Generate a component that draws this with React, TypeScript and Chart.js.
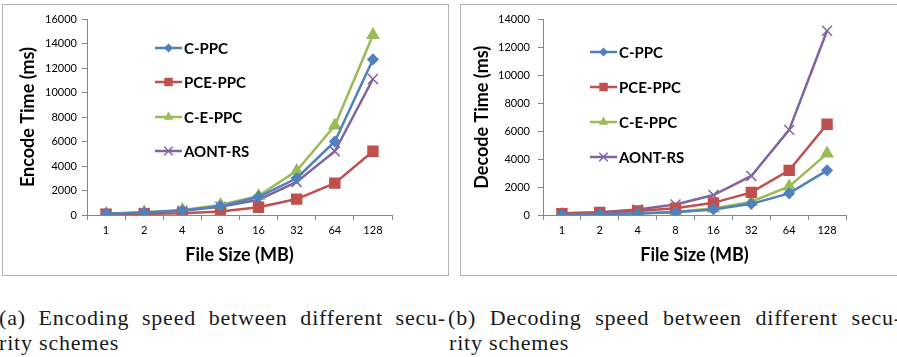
import React, { useEffect, useRef } from 'react';
import { Chart, registerables } from 'chart.js';

Chart.register(...registerables);

const categories = ['1', '2', '4', '8', '16', '32', '64', '128'];
const seriesNames = ['C-PPC', 'PCE-PPC', 'C-E-PPC', 'AONT-RS'];

const encodeCPPC = [100, 200, 370, 720, 1480, 3000, 6000, 12700];
const encodePCEPPC = [70, 90, 140, 280, 630, 1300, 2600, 5200];
const encodeCEPPC = [110, 220, 410, 820, 1560, 3600, 7300, 14700];
const encodeAONTRS = [100, 180, 340, 670, 1250, 2700, 5200, 11100];

const decodeCPPC = [40, 80, 110, 190, 400, 800, 1550, 3200];
const decodePCEPPC = [100, 180, 290, 480, 870, 1620, 3200, 6500];
const decodeCEPPC = [40, 80, 110, 240, 460, 950, 2050, 4400];
const decodeAONTRS = [120, 190, 400, 750, 1430, 2800, 6100, 13200];

const encodeMax = 16000;
const decodeMax = 14000;
const tickStep = 2000;

const COLORS = ['#4F81BD', '#C0504D', '#9BBB59', '#8064A2'];
const STYLES = ['rectRot', 'rect', 'triangle', 'crossRot'];
const RADII = [5, 7, 6.5, 7];
const LEGEND_RADII = [4.5, 6, 5.5, 6];

const FONT = 'Lato, "Open Sans", sans-serif';
const AXIS = '#868686';

function drawMarker(ctx: CanvasRenderingContext2D, style: string, x: number, y: number, r: number, color: string) {
  ctx.save();
  ctx.fillStyle = color;
  ctx.strokeStyle = color;
  ctx.lineWidth = 1.5;
  ctx.beginPath();
  if (style === 'rectRot') {
    ctx.moveTo(x, y - r);
    ctx.lineTo(x + r, y);
    ctx.lineTo(x, y + r);
    ctx.lineTo(x - r, y);
    ctx.closePath();
    ctx.fill();
  } else if (style === 'rect') {
    const s = Math.SQRT1_2 * r;
    ctx.rect(x - s, y - s, 2 * s, 2 * s);
    ctx.fill();
  } else if (style === 'triangle') {
    let a = 0;
    ctx.moveTo(x + Math.sin(a) * r, y - Math.cos(a) * r);
    a += (2 * Math.PI) / 3;
    ctx.lineTo(x + Math.sin(a) * r, y - Math.cos(a) * r);
    a += (2 * Math.PI) / 3;
    ctx.lineTo(x + Math.sin(a) * r, y - Math.cos(a) * r);
    ctx.closePath();
    ctx.fill();
  } else {
    const o = Math.SQRT1_2 * r;
    ctx.moveTo(x - o, y - o);
    ctx.lineTo(x + o, y + o);
    ctx.moveTo(x - o, y + o);
    ctx.lineTo(x + o, y - o);
    ctx.stroke();
  }
  ctx.restore();
}

function makeLegendPlugin(x0: number, x1: number, tx: number, rows: number[]) {
  return {
    id: 'innerLegend',
    afterDatasetsDraw(chart: any) {
      const ctx = chart.ctx as CanvasRenderingContext2D;
      ctx.save();
      chart.data.datasets.forEach((ds: any, i: number) => {
        const y = rows[i];
        ctx.strokeStyle = ds.borderColor;
        ctx.lineWidth = ds.borderWidth;
        ctx.beginPath();
        ctx.moveTo(x0, y);
        ctx.lineTo(x1, y);
        ctx.stroke();
        drawMarker(ctx, ds.pointStyle, (x0 + x1) / 2, y, LEGEND_RADII[i], ds.borderColor);
        ctx.fillStyle = '#000';
        ctx.font = `bold 15px ${FONT}`;
        ctx.textBaseline = 'middle';
        ctx.textAlign = 'left';
        ctx.fillText(ds.label, tx, y + 1);
      });
      ctx.restore();
    },
  };
}

interface PanelProps {
  series: number[][];
  yMax: number;
  yTitle: string;
  yWidth: number;
  rightPad: number;
  tickPad: number;
  titlePad: number;
  legend: { x0: number; x1: number; tx: number; rows: number[] };
}

function ChartPanel(props: PanelProps) {
  const ref = useRef<HTMLCanvasElement>(null);
  useEffect(() => {
    if (!ref.current) return;
    const chart = new Chart(ref.current, {
      type: 'line',
      data: {
        labels: categories,
        datasets: props.series.map((vals, i) => ({
          label: seriesNames[i],
          data: vals,
          borderColor: COLORS[i],
          backgroundColor: COLORS[i],
          pointBackgroundColor: COLORS[i],
          pointBorderColor: COLORS[i],
          pointBorderWidth: 1.5,
          pointStyle: STYLES[i] as any,
          pointRadius: RADII[i],
          borderWidth: 2.5,
          tension: 0,
          fill: false,
        })),
      },
      options: {
        animation: false,
        responsive: false,
        maintainAspectRatio: false,
        layout: { padding: { left: 0, right: props.rightPad, top: 14, bottom: 0 } },
        plugins: { legend: { display: false }, tooltip: { enabled: false } },
        scales: {
          x: {
            offset: true,
            grid: { offset: true, drawOnChartArea: false, tickLength: 5, color: AXIS },
            border: { color: AXIS, width: 1 },
            ticks: { font: { family: FONT, size: 11 }, color: '#000', padding: 4, maxRotation: 0 },
            title: {
              display: true,
              text: 'File Size (MB)',
              font: { family: FONT, size: 18, weight: 'bold' },
              color: '#000',
              padding: { top: 0, bottom: 9 },
            },
            afterFit: (s: any) => {
              s.height = 60;
            },
          },
          y: {
            min: 0,
            max: props.yMax,
            ticks: {
              stepSize: tickStep,
              font: { family: FONT, size: 11 },
              color: '#000',
              padding: props.tickPad,
              callback: (v: any) => String(v),
            },
            grid: { drawOnChartArea: false, tickLength: 5, color: AXIS },
            border: { color: AXIS, width: 1 },
            title: {
              display: true,
              text: props.yTitle,
              font: { family: FONT, size: 18, weight: 'bold' },
              color: '#000',
              padding: { top: props.titlePad, bottom: 0 },
            },
            afterFit: (s: any) => {
              s.width = props.yWidth;
            },
          },
        },
      } as any,
      plugins: [makeLegendPlugin(props.legend.x0, props.legend.x1, props.legend.tx, props.legend.rows)],
    });
    return () => chart.destroy();
  }, []);
  return <canvas ref={ref} width={445} height={270} style={{ width: 445, height: 270, display: 'block' }} />;
}

const captionStyle: React.CSSProperties = {
  position: 'absolute',
  fontFamily: '"Liberation Serif", "DejaVu Serif", serif',
  fontSize: 22,
  letterSpacing: '0.8px',
  lineHeight: '25px',
  color: '#1a1a1a',
  whiteSpace: 'nowrap',
};

const justified: React.CSSProperties = {
  textAlign: 'justify',
  textAlignLast: 'justify' as any,
  whiteSpace: 'normal',
};

export default function App() {
  return (
    <div style={{ position: 'absolute', left: 0, top: 0, width: 897, height: 357, overflow: 'hidden', background: '#fff' }}>
      <div style={{ position: 'absolute', left: 2, top: 4, border: '1px solid #b3b3b3', background: '#fff' }}>
        <ChartPanel
          series={[encodeCPPC, encodePCEPPC, encodeCEPPC, encodeAONTRS]}
          yMax={encodeMax}
          yTitle="Encode Time (ms)"
          yWidth={84}
          rightPad={56}
          tickPad={5}
          titlePad={14}
          legend={{ x0: 152, x1: 179, tx: 181, rows: [43, 77, 112, 146] }}
        />
      </div>
      <div style={{ position: 'absolute', left: 460, top: 4, border: '1px solid #b3b3b3', background: '#fff' }}>
        <ChartPanel
          series={[decodeCPPC, decodePCEPPC, decodeCEPPC, decodeAONTRS]}
          yMax={decodeMax}
          yTitle="Decode Time (ms)"
          yWidth={82}
          rightPad={60}
          tickPad={8}
          titlePad={10}
          legend={{ x0: 129, x1: 156, tx: 158, rows: [47, 82, 117, 152] }}
        />
      </div>
      <div style={{ ...captionStyle, ...justified, left: -1, top: 305, width: 447 }}>
        (a) Encoding speed between different secu-
      </div>
      <div style={{ ...captionStyle, left: -1, top: 330 }}>rity schemes</div>
      <div style={{ ...captionStyle, ...justified, left: 448, top: 305, width: 454 }}>
        (b) Decoding speed between different secu-
      </div>
      <div style={{ ...captionStyle, left: 449, top: 330 }}>rity schemes</div>
    </div>
  );
}
